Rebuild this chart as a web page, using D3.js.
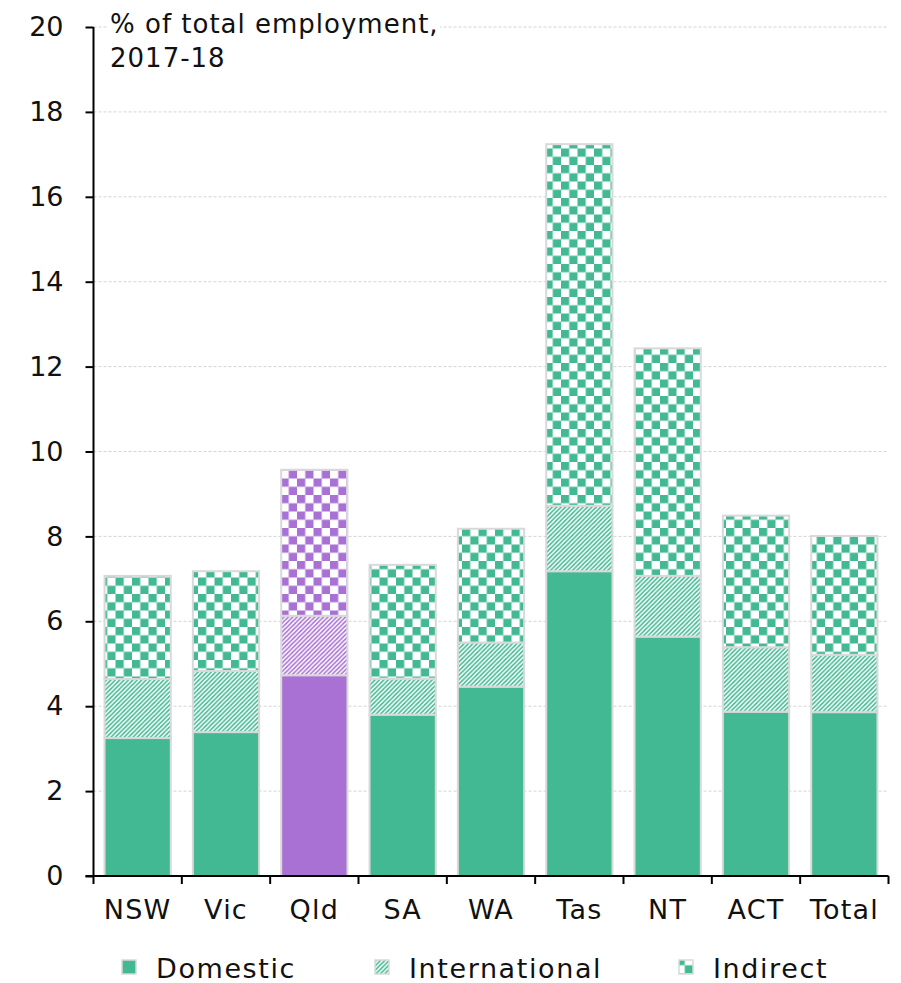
<!DOCTYPE html>
<html><head><meta charset="utf-8">
<script src="https://cdn.jsdelivr.net/npm/d3@7"></script>
<style>body{margin:0;background:#fff;} svg{display:block;font-family:"DejaVu Sans",sans-serif;}</style>
</head><body>
<svg id="c" width="901" height="983"></svg>
<script>
const categories = ["NSW","Vic","Qld","SA","WA","Tas","NT","ACT","Total"];
const domestic = [3.25,3.39,4.73,3.80,4.46,7.18,5.64,3.87,3.86];
const international = [1.39,1.44,1.40,0.85,1.04,1.54,1.43,1.52,1.35];
const indirect = [2.43,2.35,3.44,2.68,2.68,8.52,5.36,3.10,2.80];
const seriesNames = ["Domestic","International","Indirect"];
const yTicks = [0,2,4,6,8,10,12,14,16,18,20];
const highlight = "Qld";
const titleLines = ["% of total employment,","2017-18"];

(function(){
const GREEN = "#43b993", PURPLE = "#a971d4", BORDER = "#d9d9d9";
const svg = d3.select("#c");
const mLeft = 93.5, mRight = 888.5, mTop = 27, mBottom = 876;
const x = d3.scaleBand().domain(categories).range([mLeft, mRight]).padding(0);
const y = d3.scaleLinear().domain([0,20]).range([mBottom, mTop]);

// patterns
const defs = svg.append("defs");
[["g",GREEN],["p",PURPLE]].forEach(([k,col])=>{
  const ch = defs.append("pattern").attr("id","check-"+k).attr("patternUnits","userSpaceOnUse")
    .attr("width",16.5).attr("height",16.5);
  ch.append("rect").attr("width",16.5).attr("height",16.5).attr("fill","#fff");
  ch.append("rect").attr("width",8.25).attr("height",8.25).attr("fill",col);
  ch.append("rect").attr("x",8.25).attr("y",8.25).attr("width",8.25).attr("height",8.25).attr("fill",col);
  const st = defs.append("pattern").attr("id","stripe-"+k).attr("patternUnits","userSpaceOnUse")
    .attr("width",4.4).attr("height",4.4);
  st.append("rect").attr("width",4.4).attr("height",4.4).attr("fill","#fff");
  st.append("path").attr("d","M2.2,0L4.4,0L0,4.4L0,2.2Z M4.4,2.2L4.4,4.4L2.2,4.4Z").attr("fill",col);
});

// gridlines
svg.append("g").selectAll("line").data(yTicks.filter(d=>d>0)).join("line")
  .attr("x1",mLeft).attr("x2",mRight).attr("y1",d=>y(d)).attr("y2",d=>y(d))
  .attr("stroke","#d4d4d4").attr("stroke-width",1).attr("stroke-dasharray","3,2");

// title with white background
svg.append("rect").attr("x",107).attr("y",8).attr("width",333).attr("height",66).attr("fill","#fff");
svg.append("g").selectAll("text").data(titleLines).join("text")
  .attr("x",110).attr("y",(d,i)=>33+i*34).attr("font-size",26).attr("letter-spacing",1.0)
  .attr("fill","#111").text(d=>d);

// bars
const stackData = categories.map((c,i)=>({cat:c, vals:[domestic[i],international[i],indirect[i]]}));
const bw = x.bandwidth()*0.75;
const gBars = svg.append("g");
stackData.forEach(d=>{
  const k = d.cat===highlight ? "p" : "g";
  const col = k==="p" ? PURPLE : GREEN;
  const fills = [col, `url(#stripe-${k})`, `url(#check-${k})`];
  let base = 0;
  d.vals.forEach((v,j)=>{
    gBars.append("rect")
      .attr("x", x(d.cat) + (x.bandwidth()-bw)/2)
      .attr("width", bw)
      .attr("y", y(base+v))
      .attr("height", y(base)-y(base+v))
      .attr("fill", fills[j])
      .attr("stroke", BORDER).attr("stroke-width",2);
    base += v;
  });
});

// y axis
const yAxis = svg.append("g").attr("transform",`translate(${mLeft},0)`)
  .call(d3.axisLeft(y).tickValues(yTicks).tickSize(8).tickPadding(22).tickFormat(d3.format("d")));
yAxis.select(".domain").attr("stroke","#000").attr("stroke-width",2).attr("d",`M0,${mTop}V${mBottom+8}`);
yAxis.selectAll(".tick line").attr("stroke","#000").attr("stroke-width",2);
yAxis.selectAll(".tick text").attr("font-size",27).attr("fill","#111").attr("font-family","DejaVu Sans");

// x axis
const xAxis = svg.append("g").attr("transform",`translate(0,${mBottom})`)
  .call(d3.axisBottom(x).tickSize(0).tickPadding(24));
xAxis.select(".domain").attr("stroke","#000").attr("stroke-width",2).attr("d",`M${mLeft-8},0H${mRight}`);
xAxis.selectAll(".tick text").attr("font-size",27).attr("letter-spacing",1.2).attr("fill","#111").attr("font-family","DejaVu Sans");
svg.append("g").selectAll("line").data(categories.slice(1).concat(["__end"])).join("line")
  .attr("x1",(d,i)=> i<categories.length-1 ? x(d) : mRight)
  .attr("x2",(d,i)=> i<categories.length-1 ? x(d) : mRight)
  .attr("y1",mBottom).attr("y2",mBottom+8).attr("stroke","#000").attr("stroke-width",2);

// legend
const legX = [122,375,679];
const legFills = [GREEN,"url(#stripe-g)","url(#check-g)"];
const leg = svg.append("g");
seriesNames.forEach((n,i)=>{
  leg.append("rect").attr("x",legX[i]).attr("y",960).attr("width",14).attr("height",14)
    .attr("fill",legFills[i]).attr("stroke",BORDER).attr("stroke-width",1.5);
  leg.append("text").attr("x",legX[i]+34).attr("y",978).attr("font-size",27).attr("letter-spacing",1.6)
    .attr("fill","#111").text(n);
});
})();
</script>
</body></html>
